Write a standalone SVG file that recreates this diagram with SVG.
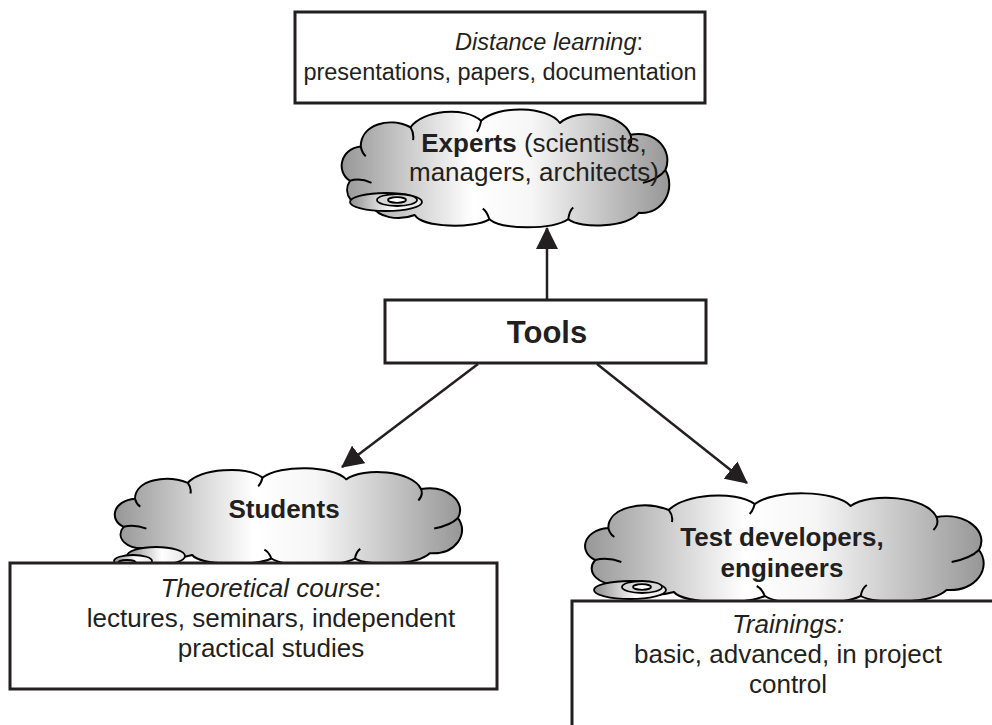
<svg xmlns="http://www.w3.org/2000/svg" width="992" height="725" viewBox="0 0 992 725">
<style>
  text { font-family: "Liberation Sans", Arial, sans-serif; fill: #231f20; }
  .box { fill: #fff; stroke: #231f20; stroke-width: 3; }
  .cloud { fill: url(#cg); stroke: #000; stroke-width: 2; vector-effect: non-scaling-stroke; stroke-linejoin: round; }
  .hook { fill: none; stroke: #000; stroke-width: 2; vector-effect: non-scaling-stroke; }
  .disc { fill: url(#dg); stroke: #000; stroke-width: 1.8; }
  .ring { fill: #d8d8d8; stroke: #000; stroke-width: 1.8; }
  .hole { fill: #fff; stroke: #000; stroke-width: 1.8; }
  .conn { stroke: #231f20; stroke-width: 2.5; fill: none; marker-end: url(#ah); }
  .b { font-weight: bold; }
  .i { font-style: italic; }
</style>
<defs>
  <linearGradient id="cg" x1="0" y1="0" x2="1" y2="0">
    <stop offset="0" stop-color="#979797"/>
    <stop offset="0.4" stop-color="#ffffff"/>
    <stop offset="0.58" stop-color="#f6f6f6"/>
    <stop offset="1" stop-color="#979797"/>
  </linearGradient>
  <linearGradient id="dg" x1="0" y1="0" x2="1" y2="0">
    <stop offset="0" stop-color="#909090"/>
    <stop offset="0.6" stop-color="#ffffff"/>
    <stop offset="1" stop-color="#e6e6e6"/>
  </linearGradient>
  <marker id="ah" viewBox="0 0 20 20" markerWidth="22" markerHeight="22" refX="19" refY="10" orient="auto" markerUnits="userSpaceOnUse">
    <path d="M0,0 L20,10 L0,20 z" fill="#231f20"/>
  </marker>
  <g id="cloudshape">
    <path class="cloud" d="M 40,92 C 15,95 2,80 12,68 C -5,60 0,38 25,36 C 25,15 60,8 85,18 C 100,2 150,-2 170,12 C 190,-3 250,-2 265,14 C 285,0 340,4 350,25 C 380,20 402,40 392,58 C 405,75 390,100 360,98 C 345,112 290,113 275,104 C 255,114 195,114 180,104 C 160,113 100,112 90,100 C 70,106 45,102 40,92 Z"/>
    <path class="hook" d="M 12,68 C 20,66 30,67 38,70 M 25,36 C 26,40 28,43 31,45 M 85,18 C 88,22 89,26 88,30 M 170,12 C 169,16 168,19 165,22 M 350,25 C 352,30 350,35 347,38 M 392,58 C 385,65 375,68 365,70 M 275,104 C 276,98 278,95 281,93 M 180,104 C 178,99 176,96 172,94"/>
  </g>
</defs>

<g id="connectors">
  <line class="conn" x1="547" y1="300" x2="547" y2="228"/>
  <line class="conn" x1="478" y1="364" x2="342" y2="467"/>
  <line class="conn" x1="597" y1="364" x2="747" y2="483"/>
</g>

<g id="distance">
  <rect class="box" x="295" y="12" width="410" height="91"/>
  <text x="549" y="50" font-size="23.5" text-anchor="middle"><tspan class="i">Distance learning</tspan>:</text>
  <text x="500" y="80" font-size="23.5" text-anchor="middle">presentations, papers, documentation</text>
</g>

<g id="experts">
  <use href="#cloudshape" transform="translate(340,108) scale(0.83,1.07)"/>
  <ellipse class="disc" cx="386" cy="202" rx="36" ry="9"/>
  <ellipse class="ring" cx="397" cy="200" rx="20" ry="6"/>
  <ellipse class="hole" cx="397" cy="200" rx="9" ry="2.8"/>
  <text x="534" y="152" font-size="26" text-anchor="middle"><tspan class="b">Experts</tspan> (scientists,</text>
  <text x="534" y="181" font-size="26" text-anchor="middle">managers, architects)</text>
</g>

<g id="tools">
  <rect class="box" x="385" y="300" width="321" height="63"/>
  <text x="547" y="343" font-size="31" class="b" text-anchor="middle">Tools</text>
</g>

<g id="students">
  <use href="#cloudshape" transform="translate(113,467) scale(0.88,0.88)"/>
  <ellipse class="disc" cx="156" cy="556" rx="29" ry="9"/>
  <ellipse class="disc" cx="133" cy="561" rx="19" ry="6"/>
  <ellipse class="hole" cx="127" cy="563" rx="9" ry="3"/>
  <text x="284" y="518" font-size="26" class="b" text-anchor="middle">Students</text>
</g>

<g id="theoretical">
  <rect class="box" x="10" y="563" width="487" height="126"/>
  <text x="271" y="597" font-size="26" text-anchor="middle"><tspan class="i">Theoretical course</tspan>:</text>
  <text x="271" y="627" font-size="26" text-anchor="middle">lectures, seminars, independent</text>
  <text x="271" y="657" font-size="26" text-anchor="middle">practical studies</text>
</g>

<g id="testdev">
  <use href="#cloudshape" transform="translate(583,492) scale(1.01,1.0)"/>
  <ellipse class="disc" cx="630" cy="590" rx="36" ry="9"/>
  <ellipse class="ring" cx="642" cy="587" rx="20" ry="6"/>
  <ellipse class="hole" cx="642" cy="587" rx="9" ry="2.8"/>
  <text x="782" y="546" font-size="26" class="b" text-anchor="middle">Test developers,</text>
  <text x="782" y="577" font-size="26" class="b" text-anchor="middle">engineers</text>
</g>

<g id="trainings">
  <rect class="box" x="572" y="601" width="440" height="140"/>
  <text x="788" y="633" font-size="26" text-anchor="middle"><tspan class="i">Trainings:</tspan></text>
  <text x="788" y="663" font-size="26" text-anchor="middle">basic, advanced, in project</text>
  <text x="788" y="693" font-size="26" text-anchor="middle">control</text>
</g>
</svg>
